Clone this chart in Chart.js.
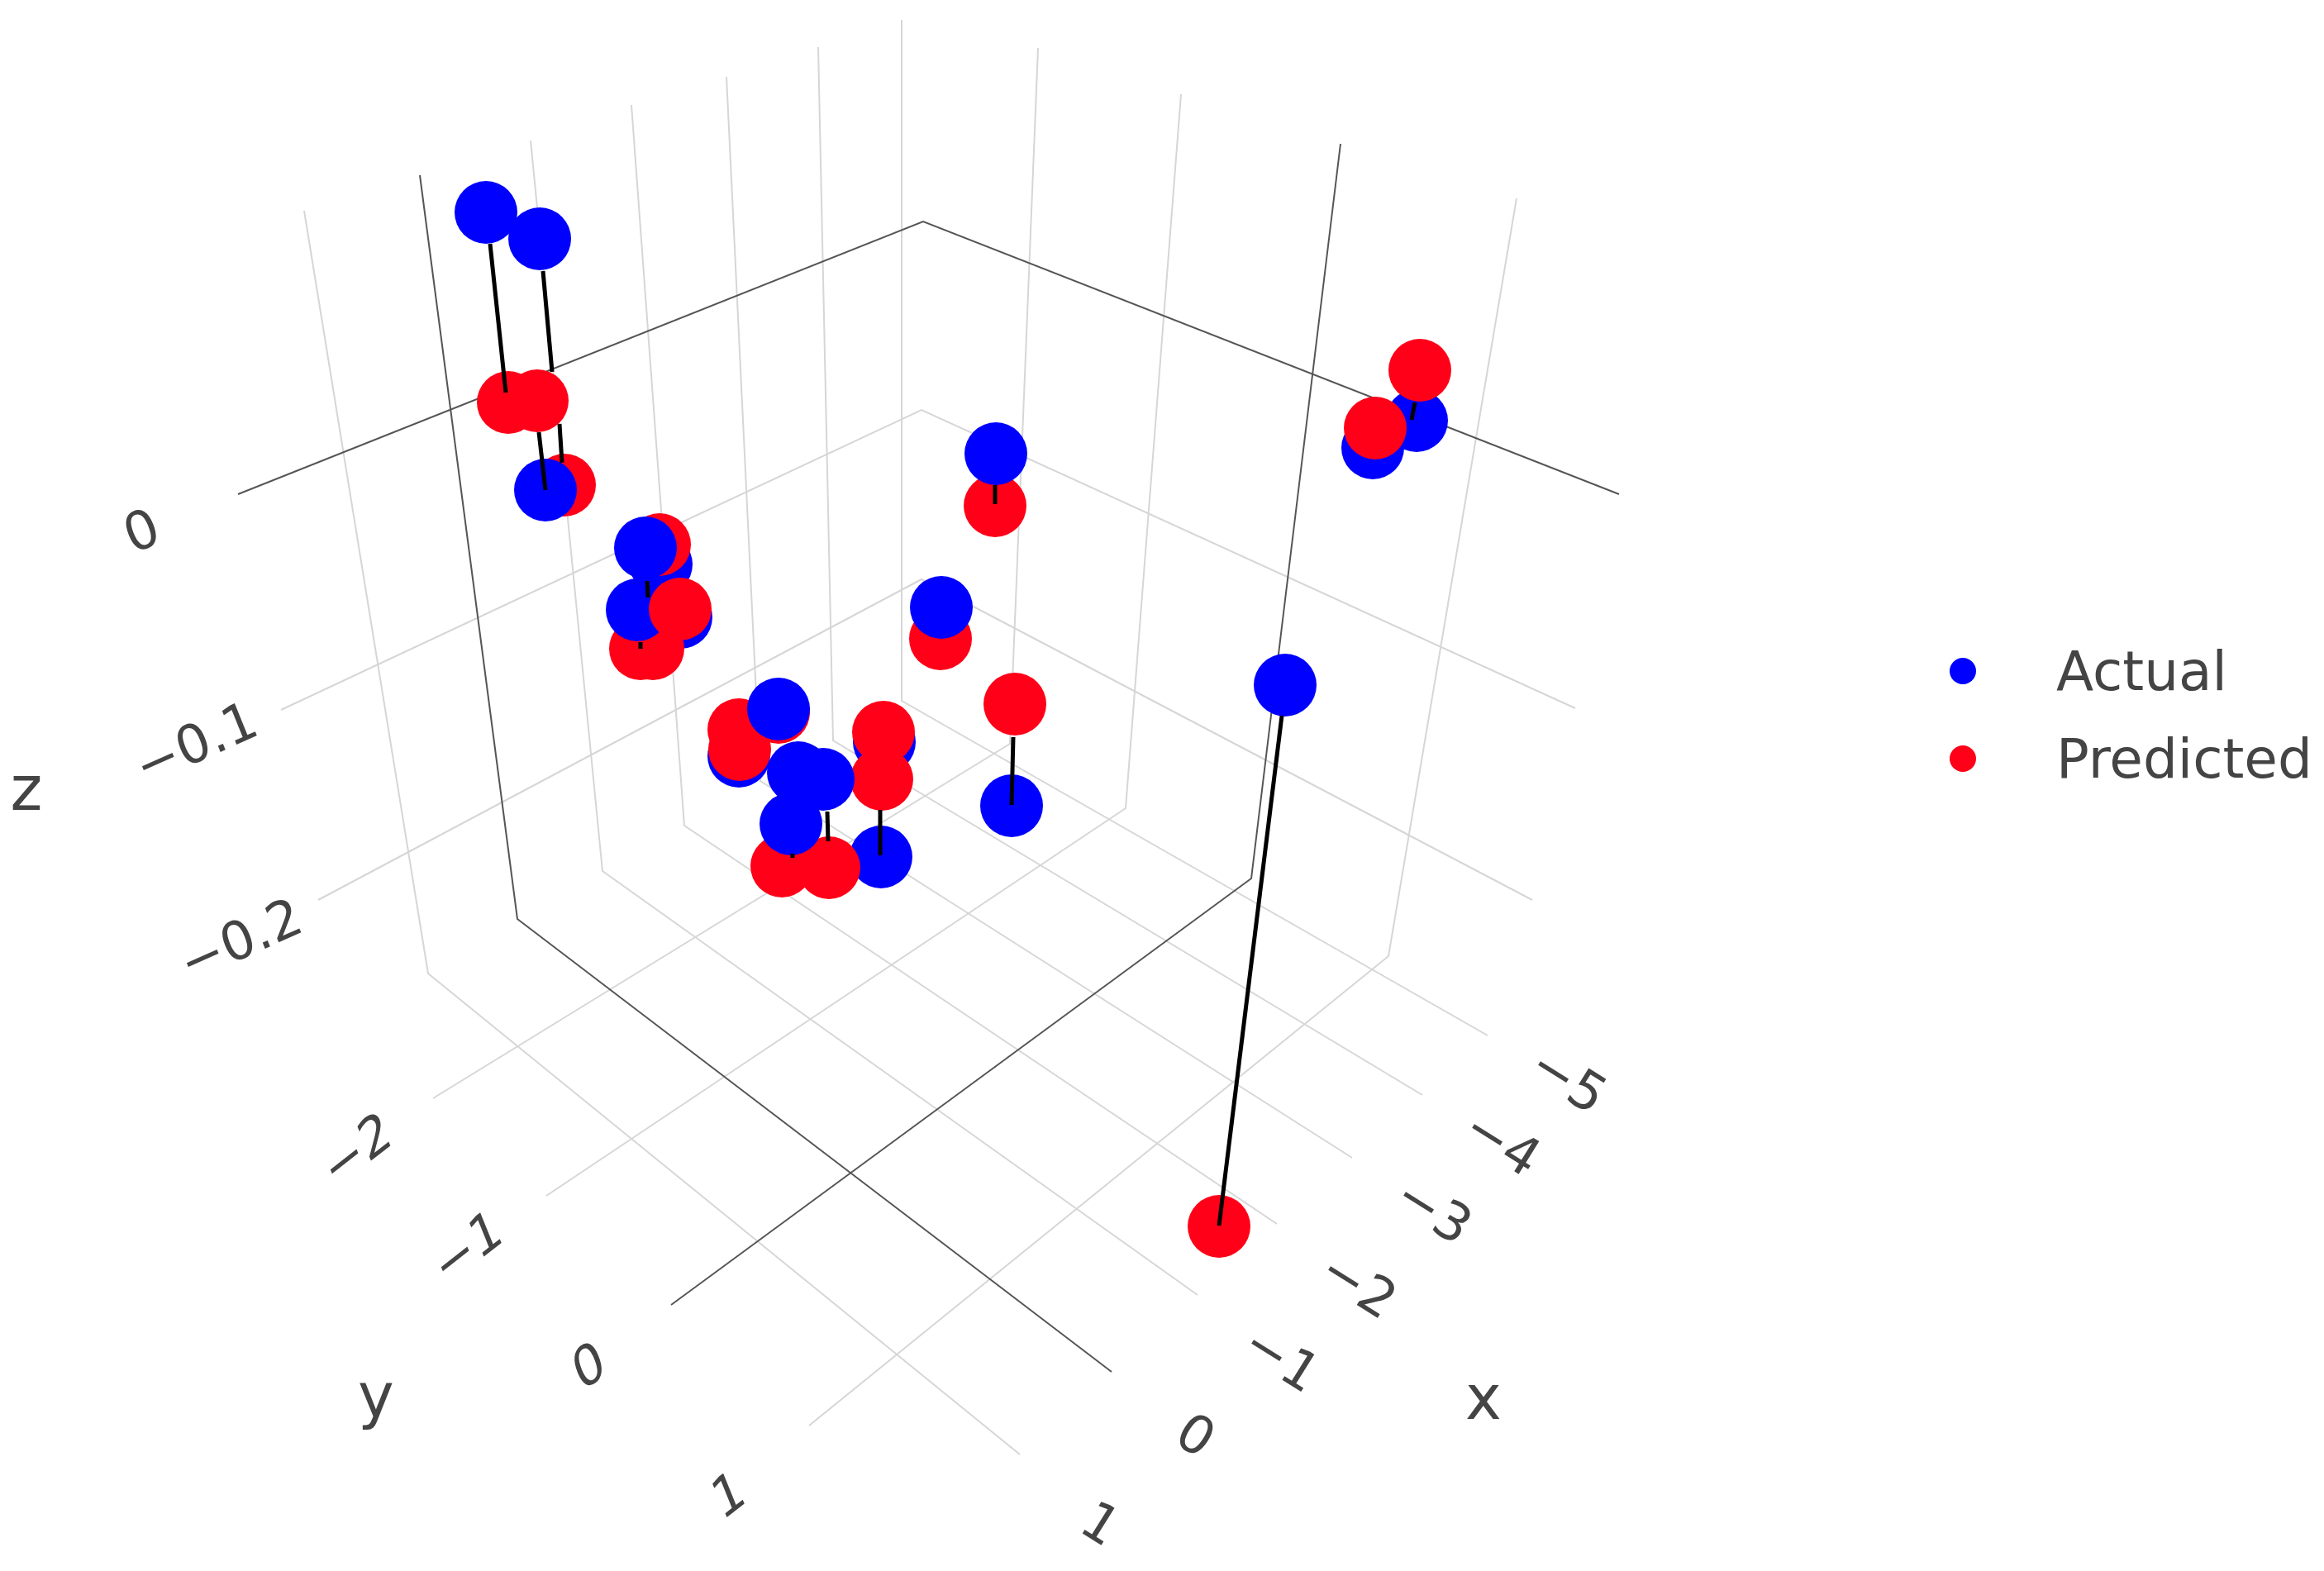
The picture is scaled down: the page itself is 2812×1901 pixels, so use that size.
<!DOCTYPE html>
<html>
<head>
<meta charset="utf-8">
<title>Actual vs Predicted</title>
<script src="https://cdn.jsdelivr.net/npm/chart.js@4"></script>
<style>
  html, body { margin: 0; padding: 0; background: #fff; }
  canvas { display: block; }
</style>
</head>
<body>
<canvas id="scatter3d" width="2812" height="1901"></canvas>
<script>
const actualX = [588, 653, 660, 781, 800, 771, 824, 942, 894, 966, 996, 957, 1066, 1070, 1139, 1224, 1205, 1555, 1661, 1714];
const actualY = [257, 289, 593, 663, 683, 738, 747, 858, 915, 935, 943, 997, 1037, 898, 735, 975, 549, 829, 542, 509];
const actualBehind = [0, 0, 0, 0, 1, 0, 1, 0, 1, 0, 0, 0, 1, 1, 0, 0, 0, 0, 1, 1];

const predictedX = [615, 683, 650, 798, 775, 790, 823, 942, 894, 895, 1003, 946, 1067, 1069, 1138, 1228, 1204, 1475, 1664, 1718];
const predictedY = [487, 587, 485, 659, 785, 785, 737, 862, 883, 907, 1050, 1048, 943, 886, 773, 852, 612, 1484, 518, 448];
const predictedFront = [0, 0, 0, 0, 0, 0, 1, 0, 0, 0, 0, 0, 0, 0, 0, 0, 0, 0, 0, 0];

// visible parts of the black actual-to-predicted links
const linkStartX = [593, 657, 677, 652, 783, 775, 1001, 959, 1065, 1226, 1204, 1551, 1712];
const linkStartY = [295, 328, 513, 523, 703, 777, 982, 1033, 980, 892, 587, 866, 487];
const linkEndX = [612, 668, 680, 660, 784, 775, 1002, 959, 1065, 1224, 1204, 1475, 1708];
const linkEndY = [475, 450, 560, 593, 723, 785, 1018, 1038, 1035, 974, 610, 1483, 508];

// grid lines: wall top, wall foot, floor end
const xGridX = [[368, 518, 1234], [642, 729, 1449], [764, 828, 1545], [879, 920, 1636], [990, 1008, 1721], [1091, 1091, 1800]];
const xGridY = [[255, 1178, 1760], [170, 1054, 1567], [127, 999, 1481], [93, 945, 1401], [57, 896, 1325], [24, 848, 1253]];
const xZeroX = [508, 626, 1345];
const xZeroY = [212, 1112, 1660];
const yGridX = [[1256, 1222, 524], [1429, 1362, 661], [1835, 1680, 979]];
const yGridY = [[58, 900, 1329], [114, 978, 1447], [240, 1157, 1725]];
const yZeroX = [1622, 1514, 812];
const yZeroY = [174, 1063, 1579];
const zGridX = [[340, 1115, 1906], [385, 1115, 1854]];
const zGridY = [[859, 496, 857], [1089, 701, 1089]];
const zZeroX = [288, 1117, 1959];
const zZeroY = [598, 268, 598];

const xTicks = ["1", "0", "\u22121", "\u22122", "\u22123", "\u22124", "\u22125"];
const xTickX = [1329, 1444, 1548, 1641, 1732, 1815, 1895];
const xTickY = [1848, 1741, 1648, 1559, 1469, 1387, 1311];
const yTicks = ["\u22122", "\u22121", "0", "1"];
const yTickX = [434, 568, 714, 883];
const yTickY = [1396, 1514, 1657, 1813];
const zTicks = ["0", "\u22120.1", "\u22120.2"];
const zTickX = [173, 239, 293];
const zTickY = [647, 904, 1142];

const axisTitles = ["x", "y", "z"];
const axisTitleX = [1795, 455, 32];
const axisTitleY = [1698, 1695, 961];

const seriesNames = ["Actual", "Predicted"];
const BLUE = "#0000ff";
const RED = "#ff0018";
const FONT = '"DejaVu Sans"';

function toPoints(xs, ys) {
    return xs.map((x, i) => ({ x: x, y: ys[i] }));
}

function line(xs, ys, color, width, order) {
    return { data: toPoints(xs, ys), showLine: true, borderColor: color, borderWidth: width, pointRadius: 0, order: order };
}

function dots(xs, ys, color, order) {
    return { data: toPoints(xs, ys), backgroundColor: color, borderWidth: 0, pointRadius: 38, pointHoverRadius: 38, order: order };
}

// dot sits a little above the middle of its image so it lines up with the text
function legendDot(color) {
    const c = document.createElement("canvas");
    c.width = 34;
    c.height = 46;
    const g = c.getContext("2d");
    g.fillStyle = color;
    g.beginPath();
    g.arc(17, 17, 16, 0, Math.PI * 2);
    g.fill();
    return c;
}

const pick = (arr, flags, want) => arr.filter((_, i) => flags[i] === want);

const datasets = [];
xGridX.forEach((xs, i) => datasets.push(line(xs, xGridY[i], "#d6d6d6", 2, 60)));
yGridX.forEach((xs, i) => datasets.push(line(xs, yGridY[i], "#d6d6d6", 2, 60)));
zGridX.forEach((xs, i) => datasets.push(line(xs, zGridY[i], "#d6d6d6", 2, 60)));
datasets.push(line(xZeroX, xZeroY, "#555", 2, 50));
datasets.push(line(yZeroX, yZeroY, "#555", 2, 50));
datasets.push(line(zZeroX, zZeroY, "#555", 2, 50));
// paint order: some blue behind, all red, remaining blue, then the red that sits on top of it
datasets.push(dots(pick(actualX, actualBehind, 1), pick(actualY, actualBehind, 1), BLUE, 40));
datasets.push(dots(pick(predictedX, predictedFront, 0), pick(predictedY, predictedFront, 0), RED, 30));
datasets.push(dots(pick(actualX, actualBehind, 0), pick(actualY, actualBehind, 0), BLUE, 20));
datasets.push(dots(pick(predictedX, predictedFront, 1), pick(predictedY, predictedFront, 1), RED, 10));
linkStartX.forEach((x, i) => datasets.push(line([x, linkEndX[i]], [linkStartY[i], linkEndY[i]], "#000", 5, 5)));

// tilted text: baseline angle a, stem angle b (degrees)
function drawText(ctx, text, px, py, size, a, b) {
    const ra = a * Math.PI / 180;
    const rb = b * Math.PI / 180;
    ctx.save();
    ctx.transform(Math.cos(ra), Math.sin(ra), -Math.sin(rb), Math.cos(rb), px, py);
    ctx.font = size + "px " + FONT;
    ctx.fillStyle = "#444";
    ctx.textAlign = "center";
    ctx.textBaseline = "middle";
    ctx.fillText(text, 0, 0);
    ctx.restore();
}

const axisText = {
    id: "axisText",
    afterDatasetsDraw(chart) {
        const { ctx, scales } = chart;
        const put = (labels, xs, ys, size, a, b) => labels.forEach((t, i) =>
            drawText(ctx, t, scales.x.getPixelForValue(xs[i]), scales.y.getPixelForValue(ys[i]), size, a, b));
        put(xTicks, xTickX, xTickY, 64, 32, 32);
        put(yTicks, yTickX, yTickY, 64, -38, -22);
        put(zTicks, zTickX, zTickY, 64, -24, -22);
        put(axisTitles, axisTitleX, axisTitleY, 74, 0, 0);
    }
};

// moves the legend out of the full-canvas chart area to its spot on the right
const legendSpot = {
    id: "legendSpot",
    afterLayout(chart) {
        const legend = chart.legend;
        legend.left = 2255;
        legend.right = 2812;
        legend.top = 745;
        legend.bottom = 1100;
    }
};

new Chart(document.getElementById("scatter3d"), {
    type: "scatter",
    data: { datasets: datasets },
    plugins: [axisText, legendSpot],
    options: {
        responsive: false,
        animation: false,
        events: [],
        layout: { padding: 0, autoPadding: false },
        scales: {
            x: { type: "linear", min: 0, max: 2812, display: false },
            y: { type: "linear", min: 0, max: 1901, reverse: true, display: false }
        },
        plugins: {
            tooltip: { enabled: false },
            title: { display: false },
            legend: {
                position: "chartArea",
                align: "start",
                labels: {
                    usePointStyle: true,
                    pointStyleWidth: 160,
                    padding: 40,
                    color: "#444",
                    font: { family: FONT, size: 66 },
                    generateLabels: () => [
                        { text: seriesNames[0], fontColor: "#444", pointStyle: legendDot(BLUE), fillStyle: BLUE, strokeStyle: BLUE, lineWidth: 0, hidden: false },
                        { text: seriesNames[1], fontColor: "#444", pointStyle: legendDot(RED), fillStyle: RED, strokeStyle: RED, lineWidth: 0, hidden: false }
                    ]
                }
            }
        }
    }
});
</script>
</body>
</html>
